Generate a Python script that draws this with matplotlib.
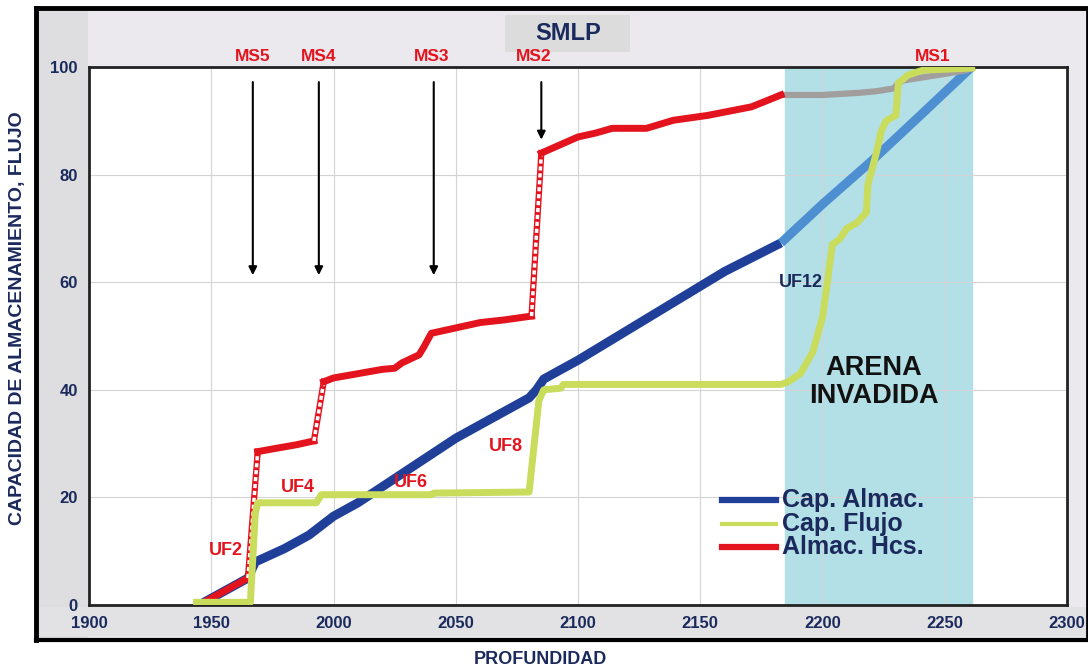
import matplotlib
matplotlib.use("Agg")
import matplotlib.pyplot as plt
from matplotlib.patches import Rectangle
import numpy as np

plt.rcParams["font.family"] = ["Liberation Sans", "DejaVu Sans"]
plt.rcParams["font.weight"] = "bold"

# ---- data ----
blue_x = [1945, 1955, 1965, 1968, 1980, 1990, 2000, 2010, 2020, 2030, 2040, 2050,
          2060, 2070, 2080, 2083, 2086, 2100, 2120, 2140, 2160, 2183]
blue_y = [0, 2.5, 5, 8, 10.5, 13, 16.5, 19, 22, 25, 28, 31,
          33.5, 36, 38.5, 40, 42, 45.5, 51, 56.5, 62, 67.3]
blue_inv_x = [2183, 2200, 2220, 2240, 2261]
blue_inv_y = [67.3, 74.5, 82.5, 91, 100]

flujo_x = [1944, 1966, 1968, 1969, 1993, 1995, 2040, 2041, 2080, 2084, 2086, 2093, 2094,
           2183, 2186, 2191, 2196, 2200, 2202, 2204, 2207, 2210, 2214, 2218, 2218.5,
           2222, 2224, 2226, 2230, 2231, 2235, 2241, 2261]
flujo_y = [0.5, 0.5, 17, 19, 19, 20.5, 20.5, 20.8, 21, 38, 40, 40.3, 41,
           41, 41.5, 43, 47, 53.5, 60, 67, 68, 70, 71, 73, 78,
           84, 88, 90, 91, 97, 98.5, 99.4, 99.8]

hcs_x = [1945, 1955, 1965, 1969, 1975, 1985, 1992, 1996, 2000, 2010, 2020, 2025, 2028,
         2035, 2037, 2040, 2045, 2060, 2070, 2081, 2085, 2090, 2097, 2100, 2107, 2114,
         2128, 2139, 2153, 2171, 2183]
hcs_y = [0, 2.5, 5, 28.5, 29, 29.8, 30.5, 41.5, 42.2, 43, 43.8, 44, 45,
         46.5, 48, 50.5, 51, 52.5, 53, 53.7, 84, 85, 86.4, 87, 87.7, 88.6,
         88.6, 90.1, 91, 92.6, 94.8]
hcs_jumps = [2, 6, 19]          # index i: segment i -> i+1 is a fast step

gray_x = [2183, 2200, 2215, 2222, 2229, 2231, 2233, 2240, 2247, 2259, 2261]
gray_y = [94.8, 94.8, 95.2, 95.5, 96, 97, 97.5, 98, 98.5, 99.4, 99.8]

ms_labels = ["MS5", "MS4", "MS3", "MS2", "MS1"]
ms_label_x = [1967, 1994, 2040, 2082, 2245]
arrow_x = [1967, 1994, 2041, 2085]
arrow_end = [61.3, 61.3, 61.3, 86.5]

uf_labels = ["UF2", "UF4", "UF6", "UF8"]
uf_x = [1956, 1985.5, 2031.5, 2070.5]
uf_y = [10.2, 21.9, 22.7, 29.4]

legend_labels = ["Cap. Almac.", "Cap. Flujo", "Almac. Hcs."]

invaded = (2184.5, 2261)

NAVY = "#1b2a5c"
RED = "#e3141d"
BLUE = "#1f3f99"
LBLUE = "#4d8fd0"
YELLOW = "#c9dc5c"

fig = plt.figure(figsize=(10.88, 6.70), dpi=100)
W, H = 1088, 670

def fx(px):
    return px / W

def fy(py):
    return 1 - py / H

def panel(x0, y0, x1, y1, color, z):
    fig.patches.append(Rectangle((fx(x0), fy(y1)), fx(x1) - fx(x0), fy(y0) - fy(y1),
                                 transform=fig.transFigure, facecolor=color,
                                 edgecolor="none", zorder=z))

# outer panel
panel(36, 8, 1088, 640, "#ebe8ee", -10)
panel(38, 10, 88, 638, "#dedddf", -9)
panel(38, 607, 1086, 636, "#e2e2e4", -9)
panel(505, 15, 630, 52, "#dcdcdd", -8)
for xs, ys, lw in [([36, 36], [8, 640], 3.5), ([36, 1088], [8, 8], 3.5),
                   ([36, 1088], [640, 640], 3), ([1087, 1087], [8, 640], 2)]:
    fig.add_artist(plt.Line2D([fx(v) for v in xs], [fy(v) for v in ys],
                              color="black", lw=lw, zorder=-7))
fig.text(fx(568), fy(33), "SMLP", color=NAVY, fontsize=17, fontweight="bold",
         ha="center", va="center")

ax = fig.add_axes([fx(89), fy(605), fx(1067) - fx(89), fy(67) - fy(605)])
ax.set_zorder(1)
ax.set_xlim(1900, 2300)
ax.set_ylim(0, 100)
ax.set_xticks(np.arange(1900, 2301, 50))
ax.set_yticks(np.arange(0, 101, 20))
ax.grid(True, color="#d4d4d4", lw=0.8)
ax.set_axisbelow(True)
for s in ax.spines.values():
    s.set_linewidth(2)
    s.set_color("#222222")
ax.tick_params(length=0, labelsize=12, labelcolor=NAVY, pad=8)
for lab in ax.get_xticklabels() + ax.get_yticklabels():
    lab.set_fontweight("bold")

ax.axvspan(*invaded, color="#b3dfe7", zorder=0.5)

ax.plot(blue_x, blue_y, color=BLUE, lw=6.5, solid_capstyle="butt", zorder=3)
ax.plot(blue_inv_x, blue_inv_y, color=LBLUE, lw=6.5, solid_capstyle="butt", zorder=3)
ax.plot(gray_x, gray_y, color="#a39e9e", lw=4.5, zorder=3)

# red curve: solid pieces, ladder-like fast steps
start = 0
for j in hcs_jumps:
    ax.plot(hcs_x[start:j + 1], hcs_y[start:j + 1], color=RED, lw=5, zorder=4)
    ax.plot(hcs_x[j:j + 2], hcs_y[j:j + 2], color=RED, lw=4.5, zorder=4)
    ax.plot(hcs_x[j:j + 2], hcs_y[j:j + 2], color="white", lw=2.5,
            linestyle=(0, (1.2, 0.8)), zorder=4)
    start = j + 1
ax.plot(hcs_x[start:], hcs_y[start:], color=RED, lw=5, zorder=4)

ax.plot(flujo_x, flujo_y, color=YELLOW, lw=5, zorder=5)

# markers / annotations
for x, y1 in zip(arrow_x, arrow_end):
    ax.annotate("", xy=(x, y1), xytext=(x, 97.2),
                arrowprops=dict(arrowstyle="-|>", color="black", lw=1.5,
                                mutation_scale=12, shrinkA=0, shrinkB=0))
for lab, x in zip(ms_labels, ms_label_x):
    ax.text(x, 101.9, lab, color=RED, fontsize=12.5, fontweight="bold",
            ha="center", va="center", clip_on=False)
for lab, x, y in zip(uf_labels, uf_x, uf_y):
    ax.text(x, y, lab, color=RED, fontsize=13, fontweight="bold", ha="center", va="center",
            zorder=6)
ax.text(2191, 60, "UF12", color=NAVY, fontsize=13, fontweight="bold", ha="center", va="center")
ax.text(2221, 41.5, "ARENA\nINVADIDA", color="#111111", fontsize=19.5, fontweight="bold",
        ha="center", va="center", linespacing=1.1)

# legend drawn by hand to keep the tight row spacing
legend_colors = [BLUE, YELLOW, RED]
legend_lw = [4.5, 3, 4.5]
for i, (lab, col, lw) in enumerate(zip(legend_labels, legend_colors, legend_lw)):
    yy = 500 + 23.5 * i
    fig.add_artist(plt.Line2D([fx(722), fx(776)], [fy(yy), fy(yy)], color=col, lw=lw,
                              zorder=5))
    fig.text(fx(782), fy(yy), lab, color=NAVY, fontsize=18, fontweight="bold",
             ha="left", va="center", zorder=5)

fig.text(fx(18), fy(318), "CAPACIDAD DE ALMACENAMIENTO, FLUJO", rotation=90,
         color=NAVY, fontsize=14, fontweight="bold", ha="center", va="center")
fig.text(fx(540), fy(660), "PROFUNDIDAD", color=NAVY, fontsize=13,
         fontweight="bold", ha="center", va="center")

fig.savefig("out.png", dpi=100)
